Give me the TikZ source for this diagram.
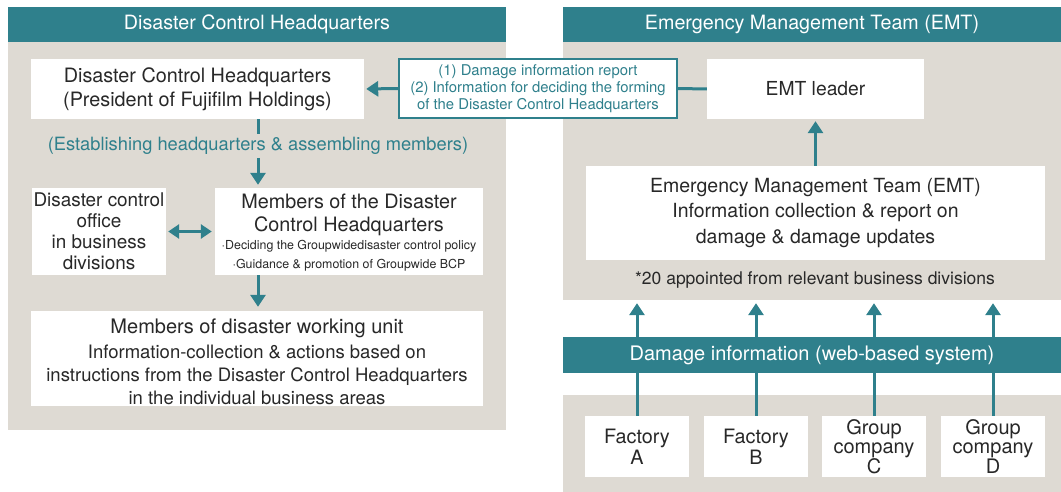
\documentclass[tikz,border=0pt]{standalone}
\usepackage{fontspec}
\setmainfont{TeX Gyre Heros}
\usetikzlibrary{arrows.meta}
\definecolor{teal1}{RGB}{47,128,140}
\definecolor{bggray}{RGB}{222,218,211}
\definecolor{txt}{RGB}{40,40,40}
\begin{document}
\begin{tikzpicture}[x=1pt,y=-1pt,
  hdr/.style={fill=teal1, text=white, inner sep=0pt, font=\fontsize{19.7}{22}\selectfont},
  bg/.style={fill=bggray, inner sep=0pt},
  box/.style={fill=white, inner sep=0pt, align=center, text=txt, font=\fontsize{19.8}{24}\selectfont},
  lbl/.style={inner sep=0pt, align=center, text=txt},
  arr/.style={draw=teal1, line width=3pt, -{Triangle[width=15pt,length=12pt]}},
  link/.style={draw=teal1, line width=3pt}
]
\useasboundingbox (0,0) rectangle (1061,492);
% left panel
\node[hdr, minimum width=498pt, minimum height=35pt] (hdrL) at (257,24.5) {Disaster Control Headquarters};
\node[bg, minimum width=498pt, minimum height=388pt] (grayL) at (257,236) {};
% right panel
\node[hdr, minimum width=498pt, minimum height=35pt] (hdrR) at (812,24.5) {Emergency Management Team (EMT)};
\node[bg, minimum width=498pt, minimum height=258pt] (grayR) at (812,171) {};
\node[bg, minimum width=498pt, minimum height=97pt] (grayB) at (812,443.5) {};

% boxes left
\node[box, minimum width=333pt, minimum height=60pt] (dch) at (197.5,89) {Disaster Control Headquarters\\(President of Fujifilm Holdings)};
\node[inner sep=3pt, text=teal1, font=\fontsize{18.3}{22}\selectfont] (est) at (258,146) {(Establishing headquarters \& assembling members)};
\node[box, minimum width=134pt, minimum height=87pt, font=\fontsize{18.9}{21}\selectfont] (office) at (99,231.5) {Disaster control\\office\\in business\\divisions};
\node[box, minimum width=268pt, minimum height=87pt] (members) at (349,231.5) {};
\node[lbl, font=\fontsize{19.8}{23}\selectfont] (mtitle) at (349,214.5) {Members of the Disaster\\Control Headquarters};
\node[lbl, font=\fontsize{12.4}{19}\selectfont] (mbul) at (349,255.5) {·Deciding the Groupwidedisaster control policy\\·Guidance \& promotion of Groupwide BCP};
\node[box, minimum width=452pt, minimum height=95pt] (unit) at (257,358.5) {};
\node[lbl, font=\fontsize{20}{23}\selectfont] (utitle) at (257,328) {Members of disaster working unit};
\node[lbl, font=\fontsize{18.5}{23.2}\selectfont] (ubody) at (257,375) {Information-collection \& actions based on\\instructions from the Disaster Control Headquarters\\in the individual business areas};

% info box
\node[fill=white, draw=teal1, line width=1.2pt, inner sep=0pt, minimum width=278pt, minimum height=59pt, align=center, text=teal1, font=\fontsize{14.85}{17}\selectfont] (info) at (538,88.5) {(1) Damage information report\\(2) Information for deciding the forming\\of the Disaster Control Headquarters};

% right boxes
\node[box, minimum width=217pt, minimum height=60pt, font=\fontsize{19.3}{24}\selectfont] (leader) at (815.5,89) {EMT leader};
\node[box, minimum width=459pt, minimum height=94pt, font=\fontsize{19.5}{25.5}\selectfont] (emt) at (815.5,213) {Emergency Management Team (EMT)\\Information collection \& report on\\damage \& damage updates};
\node[lbl, font=\fontsize{17.5}{19}\selectfont] (note) at (815,280) {*20 appointed from relevant business divisions};

% factories
\node[box, minimum width=104pt, minimum height=61pt, font=\fontsize{19.8}{21}\selectfont] (fA) at (637,446.5) {Factory\\A};
\node[box, minimum width=104pt, minimum height=61pt, font=\fontsize{19.8}{21}\selectfont] (fB) at (756,446.5) {Factory\\B};
\node[box, minimum width=104pt, minimum height=61pt, font=\fontsize{20}{19.5}\selectfont] (fC) at (874,446.5) {Group\\company\\C};
\node[box, minimum width=104pt, minimum height=61pt, font=\fontsize{20}{19.5}\selectfont] (fD) at (993,446.5) {Group\\company\\D};

% connectors
\draw[arr, shorten >=2pt] (info.west) -- (dch.east);
\draw[link] (info.east) -- (leader.west);
\draw[link] (dch.south -| est) -- (est.north);
\draw[arr, shorten >=3pt] (est.south) -- (members.north -| est);
\draw[draw=teal1, line width=3pt, {Triangle[width=14pt,length=11pt]}-{Triangle[width=14pt,length=11pt]}, shorten <=2pt, shorten >=3pt] (office.east) -- (members.west);
\draw[arr, shorten >=4pt] (members.south -| est) -- (unit.north -| est);
\draw[arr, shorten >=2pt] (emt.north) -- (leader.south);
\foreach \f in {fA,fB,fC,fD}{
  \draw[arr, shorten >=3pt] (\f.north) -- (\f.north |- grayR.south);
}
% bar
\node[hdr, minimum width=498pt, minimum height=36pt, font=\fontsize{20}{22}\selectfont] (bar) at (812,355) {Damage information (web-based system)};
\end{tikzpicture}
\end{document}
